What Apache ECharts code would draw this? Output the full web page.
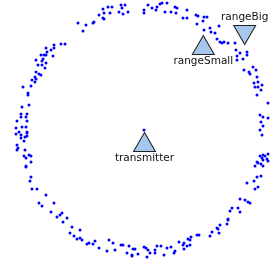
<!DOCTYPE html>
<html>
<head>
<meta charset="utf-8">
<script src="https://cdn.jsdelivr.net/npm/echarts@6/dist/echarts.min.js"></script>
<style>
  html, body { margin: 0; padding: 0; background: #fff; }
  #chart { width: 270px; height: 266px; }
</style>
</head>
<body>
<div id="chart"></div>
<script>
// received points around the transmitter (x, y in plot units, y grows downward)
const ringPoints = [
  [125,5],[121,5],[122,8],[128,12],[119,12],[123,14],[108,7],[112,7],[103,9],[104,13],
  [110,13],[103,18],[99,15],[104,19],[94,22],[93,23],[86,25],[78,23],[83,31],[65,44],
  [61,44],[54,45],[54,48],[46,48],[51,50],[47,52],[44,55],[41,55],[46,55],[53,56],
  [43,59],[36,60],[42,61],[46,63],[38,65],[42,65],[45,68],[36,72],[39,74],[41,75],
  [35,77],[36,79],[32,80],[35,82],[31,86],[23,87],[28,93],[28,95],[29,105],[22,107],
  [21,114],[27,114],[21,117],[26,117],[27,121],[17,121],[22,127],[26,127],[16,128],[19,132],
  [27,132],
  [148,5],[144,10],[144,13],[152,8],[157,7],[160,4],[162,3],[167,3],[156,10],[165,12],
  [171,12],[175,7],[177,8],[176,13],[187,10],[187,18],[183,18],[196,15],[198,16],[204,17],
  [207,17],[197,24],[203,21],[204,30],[210,28],[211,32],[215,33],[219,26],[217,39],[220,42],
  [222,43],[224,42],[228,43],[235,43],[236,50],[240,53],[247,55],[247,52],[237,56],[237,60],
  [243,59],[244,70],[249,72],[253,67],[256,70],[250,74],[257,77],[258,82],[254,83],[255,87],
  [262,85],[261,90],[258,87],[257,95],[268,103],[260,115],[263,117],[268,118],[261,122],[263,126],
  [260,130],
  [16,134],[21,135],[27,133],[21,138],[25,137],[27,136],[24,141],[17,145],[18,148],[17,150],
  [25,150],[24,156],[26,158],[29,155],[31,156],[31,162],[26,166],[26,167],[31,177],[30,181],
  [32,189],[37,189],[46,195],[39,203],[42,206],[54,203],[51,212],[62,213],[60,215],[57,217],
  [67,218],[63,222],[72,227],[70,233],[80,230],[74,236],[77,239],[80,238],[82,240],[87,244],
  [89,243],[95,241],[93,244],[99,248],[109,240],[113,243],[115,250],[107,251],[121,245],[123,245],
  [129,246],[133,249],[127,253],[132,255],[132,256],
  [262,135],[260,156],[263,155],[265,156],[268,154],[262,158],[263,160],[267,159],[268,161],[258,163],
  [261,164],[255,166],[263,166],[257,162],[261,176],[257,177],[254,181],[247,183],[255,189],[258,187],
  [245,200],[248,202],[250,203],[240,199],[232,208],[230,211],[238,208],[240,212],[228,219],[228,220],
  [227,224],[220,225],[217,228],[218,229],[212,232],[219,233],[210,236],[197,235],[199,235],[191,237],
  [190,240],[188,239],[184,243],[187,246],[190,245],[179,242],[183,245],[184,249],[175,251],[174,253],
  [171,247],[167,248],[161,246],[157,246],[164,255],[155,250],[155,253],[150,253],[148,250],[146,248],
  [144,247],[147,257],[138,254],[135,249]
];

const transmitterDot = [[144,130]];

const markerNames = ['transmitter', 'rangeSmall', 'rangeBig'];
const markerX = [144.5, 203.3, 244.7];
const markerY = [142, 45, 35];
const markerUp = [true, true, false];

const chart = echarts.init(document.getElementById('chart'), null, { renderer: 'canvas' });

const markerData = markerNames.map(function (name, i) {
  return {
    name: name,
    value: [markerX[i], markerY[i]],
    symbolRotate: markerUp[i] ? 0 : 180,
    label: {
      position: markerUp[i] ? 'bottom' : 'top',
      distance: markerUp[i] ? 1 : 2
    }
  };
});

chart.setOption({
  animation: false,
  backgroundColor: '#ffffff',
  grid: { left: 0, right: 0, top: 0, bottom: 0 },
  xAxis: {
    type: 'value', min: 0, max: 270,
    show: false
  },
  yAxis: {
    type: 'value', min: 0, max: 266, inverse: true,
    show: false
  },
  series: [
    {
      type: 'scatter',
      data: ringPoints,
      symbol: 'circle',
      symbolSize: 3,
      itemStyle: { color: '#0000ff', opacity: 1 },
      z: 3
    },
    {
      type: 'scatter',
      data: markerData,
      symbol: 'triangle',
      symbolSize: [22, 19],
      itemStyle: { color: '#a6c8ee', borderColor: '#222222', borderWidth: 1, opacity: 1 },
      label: {
        show: true,
        formatter: '{b}',
        color: '#111111',
        fontFamily: 'DejaVu Sans',
        fontSize: 10.5
      },
      z: 4
    },
    {
      type: 'scatter',
      data: transmitterDot,
      symbol: 'circle',
      symbolSize: 3,
      itemStyle: { color: '#0000ff', opacity: 1 },
      z: 5
    }
  ]
});
</script>
</body>
</html>
